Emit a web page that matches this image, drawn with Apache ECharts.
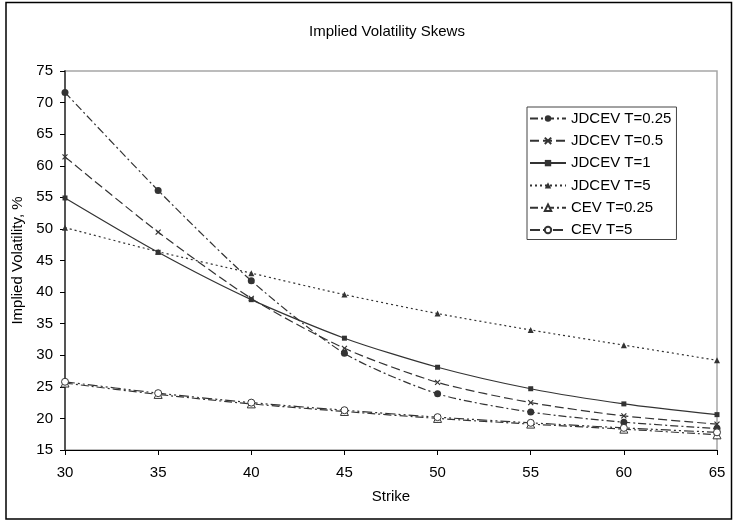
<!DOCTYPE html>
<html>
<head>
<meta charset="utf-8">
<script src="https://cdn.jsdelivr.net/npm/echarts@6/dist/echarts.min.js"></script>
<style>
  html, body { margin: 0; padding: 0; background: #fff; }
  #chart { width: 733px; height: 523px; }
</style>
</head>
<body>
<div id="chart"></div>
<script>
// strikes on the x axis
const strikes = [30, 35, 40, 45, 50, 55, 60, 65]
// implied volatility, %
const jdcev025 = [71.6, 56.1, 41.8, 30.3, 23.9, 21.0, 19.4, 18.4]
const jdcev05 = [61.4, 49.5, 39.0, 31.1, 25.7, 22.5, 20.4, 19.1]
const jdcev1 = [54.9, 46.3, 38.8, 32.7, 28.1, 24.7, 22.3, 20.6]
const jdcev5 = [50.2, 46.4, 43.0, 39.6, 36.6, 34.0, 31.6, 29.2]
const cev025 = [25.6, 23.8, 22.3, 21.1, 20.0, 19.1, 18.3, 17.4]
const cev5 = [25.8, 24.0, 22.5, 21.3, 20.2, 19.3, 18.5, 17.8]

const font = 'Liberation Sans, Arial, sans-serif'
const ink = '#333'
const pts = arr => strikes.map((s, i) => [s, arr[i]])
const crossPath = 'path://M0,0L10,10M10,0L0,10'

function line (name, data, dash, symbol, size, open) {
  return {
    name: name,
    type: 'line',
    data: pts(data),
    smooth: 0.25,
    symbol: symbol,
    symbolSize: size,
    showSymbol: true,
    lineStyle: { color: ink, width: 1.2, type: dash },
    itemStyle: open
      ? { color: '#fff', borderColor: ink, borderWidth: 1 }
      : { color: ink, borderColor: ink, borderWidth: symbol === crossPath ? 1.2 : 0 },
    emphasis: { disabled: true }
  }
}

const myChart = echarts.init(document.getElementById('chart'))
myChart.setOption({
  animation: false,
  textStyle: { fontFamily: font },
  title: {
    text: 'Implied Volatility Skews',
    left: 382,
    top: 19,
    textAlign: 'center',
    textStyle: { fontFamily: font, fontSize: 15, fontWeight: 'normal', color: '#000' }
  },
  graphic: [{
    type: 'rect',
    z: -10,
    shape: { x: 6, y: 2.5, width: 725.5, height: 516.5 },
    style: { fill: 'none', stroke: '#000', lineWidth: 1.5 }
  }],
  legend: {
    orient: 'vertical',
    left: 527,
    top: 107,
    padding: [4, 5, 2, 2],
    itemWidth: 36,
    itemHeight: 8,
    itemGap: 7.3,
    borderColor: '#444',
    borderWidth: 1,
    backgroundColor: '#fff',
    textStyle: { fontFamily: font, fontSize: 15, color: '#000' },
    data: ['JDCEV T=0.25', 'JDCEV T=0.5', 'JDCEV T=1', 'JDCEV T=5', 'CEV T=0.25', 'CEV T=5']
  },
  grid: {
    left: 65,
    right: 16,
    top: 71,
    bottom: 73,
    show: true,
    borderColor: '#a6a6a6',
    borderWidth: 1.5
  },
  xAxis: {
    type: 'value',
    min: 30,
    max: 65,
    interval: 5,
    name: 'Strike',
    nameLocation: 'middle',
    nameGap: 39,
    nameTextStyle: { fontFamily: font, fontSize: 15, color: '#000' },
    axisLine: { show: true, lineStyle: { color: '#000', width: 1.2 } },
    axisTick: { show: true, inside: false, length: 5, lineStyle: { color: '#000' } },
    axisLabel: { margin: 15, fontFamily: font, fontSize: 15, color: '#000' },
    splitLine: { show: false }
  },
  yAxis: {
    type: 'value',
    min: 15,
    max: 75,
    interval: 5,
    name: 'Implied Volatility, %',
    nameLocation: 'middle',
    nameGap: 40,
    nameTextStyle: { fontFamily: font, fontSize: 15, color: '#000' },
    axisLine: { show: true, lineStyle: { color: '#555', width: 2 } },
    axisTick: { show: true, inside: false, length: 5, lineStyle: { color: '#000' } },
    axisLabel: { margin: 12, fontFamily: font, fontSize: 15, color: '#000' },
    splitLine: { show: false }
  },
  series: [
    line('JDCEV T=0.25', jdcev025, [8, 3, 2, 3], 'circle', 7, false),
    line('JDCEV T=0.5', jdcev05, [9, 4], crossPath, 5, false),
    line('JDCEV T=1', jdcev1, 'solid', 'rect', 5, false),
    line('JDCEV T=5', jdcev5, [2, 3], 'triangle', 6, false),
    line('CEV T=0.25', cev025, [8, 3, 2, 3], 'triangle', 8, true),
    line('CEV T=5', cev5, [10, 3, 2, 3, 2, 3], 'circle', 7, true)
  ]
})
</script>
</body>
</html>
